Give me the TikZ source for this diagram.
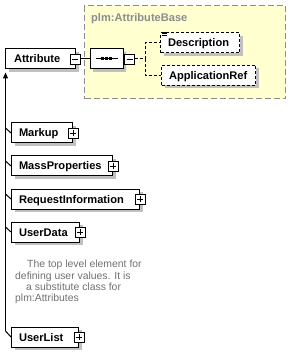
\documentclass[tikz,border=0pt]{standalone}
\usepackage{fontspec}
\setmainfont{Liberation Sans}
\usetikzlibrary{shadows,shapes.misc,arrows.meta}
\definecolor{shadowgray}{HTML}{C0C0C0}
\definecolor{grpfill}{HTML}{FFFFD0}
\definecolor{grpline}{HTML}{8C8C8C}
\definecolor{notegray}{HTML}{707070}
\newcommand{\lblfont}{\fontsize{11.1}{13}\selectfont\bfseries}
\newcommand{\notefont}{\fontsize{10.4}{12}\selectfont}
\begin{document}
\begin{tikzpicture}[x=1pt,y=-1pt,
  boxshadow/.style={drop shadow={shadow xshift=3pt,shadow yshift=-3pt,fill=shadowgray,opacity=1}},
  elem/.style={boxshadow, draw=black, line width=1pt, fill=white, minimum height=20pt,
    inner ysep=0pt, inner xsep=7.5pt, anchor=west, font=\lblfont, align=left,
    text height=8pt, text depth=0pt},
  delem/.style={elem, dash pattern=on 3pt off 2pt},
  seqbox/.style={boxshadow, chamfered rectangle, chamfered rectangle xsep=5pt,
    chamfered rectangle ysep=5pt, draw=black, line width=1pt, fill=white,
    minimum width=33pt, minimum height=20pt, inner sep=0pt,
    path picture={
      \draw[line width=1pt] ([xshift=-11pt]path picture bounding box.center) -- ([xshift=11pt]path picture bounding box.center);
      \draw[line width=3pt, dash pattern=on 3pt off 1pt] ([xshift=-5.5pt]path picture bounding box.center) -- ([xshift=5.5pt]path picture bounding box.center);
    }},
  icon/.style={draw=black, line width=0.8pt, fill=white, minimum size=10pt, inner sep=0pt, outer sep=0pt},
  minusicon/.style={icon, path picture={
      \draw[line width=0.8pt] ([xshift=2pt]path picture bounding box.west) -- ([xshift=-2pt]path picture bounding box.east);}},
  plusicon/.style={icon, path picture={
      \draw[line width=0.8pt] ([xshift=2pt]path picture bounding box.west) -- ([xshift=-2pt]path picture bounding box.east);
      \draw[line width=0.8pt] ([yshift=-2pt]path picture bounding box.north) -- ([yshift=2pt]path picture bounding box.south);}},
  conn/.style={draw=black, line width=1pt},
  dconn/.style={conn, dash pattern=on 3pt off 2pt},
  grpbox/.style={draw=grpline, fill=grpfill, line width=1.2pt, dash pattern=on 6pt off 3pt,
    anchor=north west, inner sep=0pt},
  note/.style={anchor=base west, inner sep=0pt, font=\notefont, text=notegray}
]
\useasboundingbox (0,0) rectangle (290,352);

% group
\node[grpbox, minimum width=201pt, minimum height=93pt] (grp) at (84,5) {};
\node[anchor=base west, inner sep=0pt, font=\lblfont, text=grpline] (grplbl) at (91,22) {plm:AttributeBase};

% main element
\node[elem, inner xsep=8.5pt, text width=53pt] (attr) at (5,59) {\mbox{Attribute}};
\node[minusicon] (attrm) at ([xshift=-1pt]attr.east) {};

% sequence
\node[seqbox] (seq) at (106.5,59) {};
\node[minusicon, anchor=west] (seqm) at ([xshift=1pt]seq.east) {};
\draw[conn] (attrm.east) -- (seq.west);

% children of sequence
\node[delem, text width=64pt] (desc) at (160,43) {\mbox{Description}};
\node[delem, text width=79pt] (appref) at (161,75.5) {\mbox{ApplicationRef}};
\draw[line width=0.8pt] (desc.north west) ++(1.5,-0.3) -- ++(5,0);
\draw[line width=0.8pt] (desc.north west) ++(1.5,1.4) -- ++(5,0);
\draw[line width=0.8pt] (desc.north west) ++(1.5,3.1) -- ++(5,0);
\coordinate (fork) at (145,59);
\draw[dconn] (seqm.east) -- (fork);
\draw[dconn] (fork) |- (desc.west);
\draw[dconn] (fork) |- (appref.west);

% substitution group members
\node[elem, text width=46pt] (markup) at (11,133) {\mbox{Markup}};
\node[plusicon] (markupp) at (markup.east) {};
\node[elem, text width=86pt] (mass) at (11,166) {\mbox{MassProperties}};
\node[plusicon] (massp) at (mass.east) {};
\node[elem, text width=113pt] (req) at (11,199) {\mbox{RequestInformation}};
\node[plusicon] (reqp) at (req.east) {};
\node[elem, text width=53pt] (udata) at (11,232) {\mbox{UserData}};
\node[plusicon] (udatap) at (udata.east) {};
\node[elem, text width=52pt] (ulist) at (11,337) {\mbox{UserList}};
\node[plusicon] (ulistp) at (ulist.east) {};

% note
\node[note] (n1) at (27,267.7) {The top level element for};
\node[note] (n2) at (15,279) {defining user values. It is};
\node[note] (n3) at (26,290.3) {a substitute class for};
\node[note] (n4) at (15,301.5) {plm:Attributes};

% substitution line
\coordinate (vtop) at (5.5,72.5);
\coordinate (vbot) at (5.5,331);
\draw[conn, -{Triangle[width=5pt,length=6pt]}] (vbot) -- (vtop);
\draw[conn] (vbot) -- (ulist.west);
\draw[conn] (markup.west) -- ++(-5.5,-5);
\draw[conn] (mass.west) -- ++(-5.5,-5);
\draw[conn] (req.west) -- ++(-5.5,-5);
\draw[conn] (udata.west) -- ++(-5.5,-5);
\end{tikzpicture}
\end{document}
